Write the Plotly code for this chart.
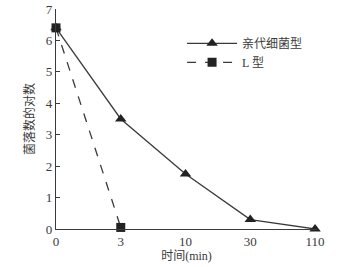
import plotly.graph_objects as go

time_labels = ["0", "3", "10", "30", "110"]
parent_values = [6.4, 3.5, 1.75, 0.3, 0.0]
l_time_labels = ["0", "3"]
l_values = [6.4, 0.05]
y_ticks = [0, 1, 2, 3, 4, 5, 6, 7]

font_main = "Liberation Serif, Noto Sans CJK SC, serif"
ink = "#3a3a3a"

fig = go.Figure()
fig.add_trace(go.Scatter(
    x=time_labels, y=parent_values, mode="lines+markers", name="亲代细菌型",
    line=dict(color=ink, width=1.3),
    marker=dict(symbol="triangle-up", size=10, color="#222"),
    cliponaxis=False,
))
fig.add_trace(go.Scatter(
    x=l_time_labels, y=l_values, mode="lines+markers", name="L 型",
    line=dict(color=ink, width=1.3, dash="dash"),
    marker=dict(symbol="square", size=9, color="#222"),
    cliponaxis=False,
))

fig.update_layout(
    width=364, height=267,
    margin=dict(l=56, r=47, t=9, b=38, autoexpand=False),
    paper_bgcolor="white", plot_bgcolor="white",
    font=dict(family=font_main, color=ink, size=12),
    showlegend=True,
    legend=dict(x=0.483, y=0.91, xanchor="left", yanchor="top",
                bgcolor="rgba(0,0,0,0)", font=dict(size=12, family=font_main),
                itemwidth=50, tracegroupgap=2),
    xaxis=dict(type="category", categoryorder="array", categoryarray=time_labels,
               range=[0, 4.03], showgrid=False, zeroline=False, automargin=False,
               showline=True, linecolor=ink, linewidth=1.3,
               ticks="", tickfont=dict(size=13),
               title=dict(text="时间(min)", font=dict(size=12), standoff=0)),
    yaxis=dict(range=[0, 7], tickvals=y_ticks, showgrid=False, zeroline=False,
               automargin=False,
               showline=True, linecolor=ink, linewidth=1.3,
               ticks="inside", ticklen=4, tickcolor=ink, tickwidth=1.2,
               tickfont=dict(size=13),
               title=dict(text="菌落数的对数", font=dict(size=12), standoff=8)),
)

fig.write_html("out.html", config={"displayModeBar": False},
               post_script="document.body.style.margin='0';")
